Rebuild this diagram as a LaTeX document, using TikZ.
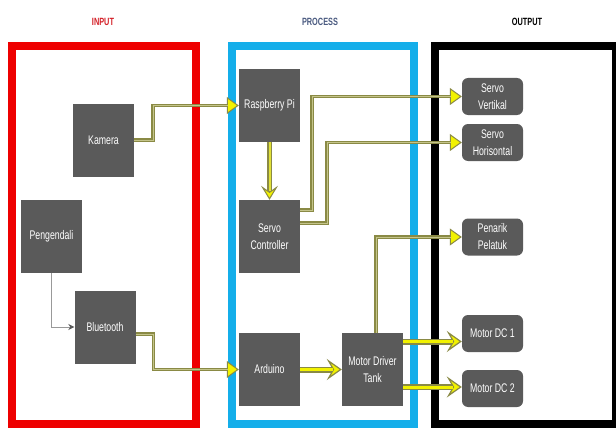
\documentclass[tikz,border=0pt]{standalone}
\usepackage{fontspec}
\setmainfont{Liberation Sans}
\newfontfamily\cf{Liberation Sans}[FakeStretch=0.7]
\usetikzlibrary{arrows.meta}
\definecolor{olv}{HTML}{8A8A45}
\definecolor{olvcore}{HTML}{C4C48A}
\definecolor{ylw}{HTML}{F2F200}
\definecolor{box}{HTML}{5A5A5A}
\definecolor{inred}{HTML}{EE0000}
\definecolor{procblue}{HTML}{14AEEA}
\definecolor{titleblue}{HTML}{4A5A80}
\definecolor{titlered}{HTML}{D42028}
\tikzset{
  blk/.style={fill=box, draw=none, minimum width=61pt, minimum height=73pt, inner sep=1pt,
    text=white, align=center, font=\cf\fontsize{12.5}{17}\selectfont},
  outb/.style={fill=box, draw=none, rounded corners=6pt, minimum width=61pt, minimum height=37pt,
    inner sep=1pt, text=white, align=center, font=\cf\fontsize{12.5}{17}\selectfont},
  frame/.style={line width=8pt},
  ttl/.style={font=\cf\bfseries\fontsize{10.5}{12}\selectfont},
  conn/.style={draw=olv, line width=3.5pt,
    -{Triangle[length=12pt, width=17pt, fill=ylw, color=olv, line width=1pt]},
    postaction={draw=olvcore, line width=1pt, -, shorten >=11pt}},
  dbl/.style={draw=olv, line width=6pt,
    -{Stealth[length=15pt, width=21pt, inset=6pt, fill=ylw, color=olv, line width=1.2pt]},
    postaction={draw=ylw, line width=3pt, -, shorten >=9pt}},
  dbls/.style={draw=olv, line width=4.5pt,
    -{Stealth[length=14pt, width=17pt, inset=6pt, fill=ylw, color=olv, line width=1pt]},
    postaction={draw=ylw!60!olvcore, line width=2pt, -, shorten >=9pt}},
  thinarr/.style={draw=gray!80, line width=0.8pt, -{Stealth[length=6pt, width=6pt, fill=box, color=box]}}
}
\begin{document}
\begin{tikzpicture}[x=1pt, y=-1pt]
\clip (0,0) rectangle (616,428);
\useasboundingbox (0,0) rectangle (616,428);
\fill[white] (0,0) rectangle (616,428);
% frames
\draw[frame, inred] (12,46.5) rectangle (195.5,423.5);
\draw[frame, procblue] (232,46.5) rectangle (413.5,424);
\draw[frame, black] (435,46.5) rectangle (616,424);
% titles
\node[ttl, text=titlered] (tin) at (103,22) {INPUT};
\node[ttl, text=titleblue] (tpr) at (320,22) {PROCESS};
\node[ttl, text=black] (tout) at (527,22) {OUTPUT};
% input nodes
\node[blk] (kam) at (103.5,140) {Kamera};
\node[blk] (pg) at (51.5,236.5) {Pengendali};
\node[blk] (bt) at (105,327) {Bluetooth};
% process nodes
\node[blk] (rpi) at (269.5,105.5) {Raspberry Pi};
\node[blk] (sc) at (269.5,236.5) {Servo\\Controller};
\node[blk] (ard) at (269.5,369.5) {Arduino};
\node[blk] (md) at (372.5,369.5) {Motor Driver\\Tank};
% output nodes
\node[outb] (sv) at (492.5,96.5) {Servo\\Vertikal};
\node[outb] (sh) at (492.5,142.5) {Servo\\Horisontal};
\node[outb] (pp) at (492.5,237) {Penarik\\Pelatuk};
\node[outb] (m1) at (492.5,333.5) {Motor DC 1};
\node[outb] (m2) at (492.5,388.5) {Motor DC 2};
% connectors
\draw[conn] (kam.east) -- ++(19,0) |- (rpi.west);
\draw[dbls] (rpi.south) -- (sc.north);
\draw[conn] ([yshift=26.5pt]sc.east) -- ++(12,0) |- (sv.west);
\draw[conn] ([yshift=13.5pt]sc.east) -- ++(27,0) |- (sh.west);
\draw[conn] ([xshift=3.5pt]md.north) |- (pp.west);
\draw[conn] ([yshift=-7pt]bt.east) -- ++(18,0) |- (ard.west);
\draw[thinarr] (pg.south) |- (bt.west);
\draw[dbl] (ard.east) -- (md.west);
\draw[dbl] ([yshift=28pt]md.east) -- ([yshift=28pt]md.east -| m1.west);
\draw[dbl] ([yshift=-17.5pt]md.east) -- ([yshift=-17.5pt]md.east -| m2.west);
\end{tikzpicture}
\end{document}
